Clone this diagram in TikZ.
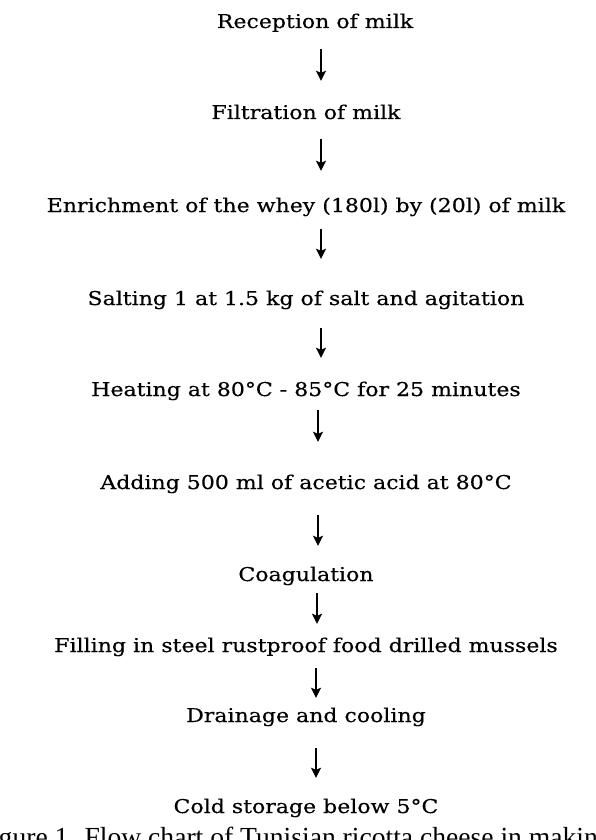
\documentclass[tikz,border=0pt]{standalone}
\usepackage{fontspec}
\setmainfont{DejaVu Serif}[FakeStretch=1.16,FakeBold=0.4]
\newfontfamily\captionfont{Liberation Serif}
\usetikzlibrary{arrows.meta}
\begin{document}
\begin{tikzpicture}[node distance=92pt]
		% Styles for the nodes
		\tikzstyle{stage} = [inner sep=0pt, text height=13pt, text depth=4pt, font=\fontsize{19}{22}\selectfont, text centered]
		\tikzstyle{arrow} = [line width=2pt,-{Stealth[length=10pt,width=10pt,inset=2pt]}]
		\useasboundingbox (0,0) rectangle (596pt,-840pt);
		% Nodes
		\node (start) [stage] at (315pt,-23.5pt) {Reception of milk};
		\node (proc1) [stage, node distance=91pt, below of=start, xshift=-9pt] {Filtration of milk};
		\node (proc2) [stage, node distance=93pt, below of=proc1] {Enrichment of the whey (180l) by (20l) of milk};
		\node (proc3) [stage, node distance=93pt, below of=proc2] {Salting 1 at 1.5 kg of salt and agitation};
		\node (proc4) [stage, node distance=91pt, below of=proc3] {Heating at 80°C - 85°C for 25 minutes};
		\node (proc5) [stage, node distance=93pt, below of=proc4] {Adding 500 ml of acetic acid at 80°C};
		\node (proc6) [stage, node distance=92pt, below of=proc5] {Coagulation};
		\node (proc7) [stage, node distance=71pt, below of=proc6] {Filling in steel rustproof food drilled mussels};
		\node (proc8) [stage, node distance=70pt, below of=proc7] {Drainage and cooling};
		\node (stop) [stage, node distance=91pt, below of=proc8] {Cold storage below 5°C};
		\node (caption) [anchor=base west, inner sep=0pt, font=\captionfont\fontsize{27.6}{30}\selectfont] at (-24.5pt,-846pt) {Figure 1. Flow chart of Tunisian ricotta cheese in making};
		% Arrows
		\draw [arrow, shorten <=17pt, shorten >=25pt] ([xshift=6pt]start.south) -- ([xshift=15pt]proc1.north);
		\draw [arrow, shorten <=16pt, shorten >=28pt] ([xshift=15pt]proc1.south) -- ([xshift=15pt]proc2.north);
		\draw [arrow, shorten <=13pt, shorten >=33pt] ([xshift=15pt]proc2.south) -- ([xshift=15pt]proc3.north);
		\draw [arrow, shorten <=19pt, shorten >=25pt] ([xshift=15pt]proc3.south) -- ([xshift=15pt]proc4.north);
		\draw [arrow, shorten <=10pt, shorten >=34pt] ([xshift=12pt]proc4.south) -- ([xshift=12pt]proc5.north);
		\draw [arrow, shorten <=22pt, shorten >=22pt] ([xshift=12pt]proc5.south) -- ([xshift=12pt]proc6.north);
		\draw [arrow, shorten <=8pt, shorten >=15pt] ([xshift=11pt]proc6.south) -- ([xshift=11pt]proc7.north);
		\draw [arrow, shorten <=12pt, shorten >=11pt] ([xshift=10pt]proc7.south) -- ([xshift=10pt]proc8.north);
		\draw [arrow, shorten <=22pt, shorten >=22pt] ([xshift=10pt]proc8.south) -- ([xshift=10pt]stop.north);
	\end{tikzpicture}
\end{document}
